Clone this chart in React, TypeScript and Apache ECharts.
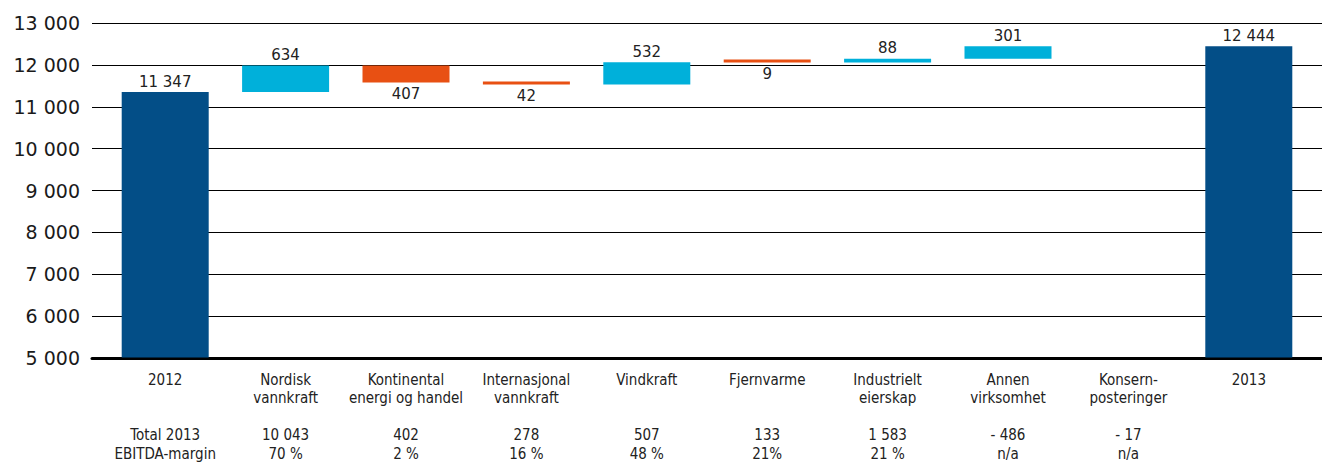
import React, { useEffect, useRef } from "react";
import * as echarts from "echarts";

const categoryNames = [
  "2012",
  "Nordisk\nvannkraft",
  "Kontinental\nenergi og handel",
  "Internasjonal\nvannkraft",
  "Vindkraft",
  "Fjernvarme",
  "Industrielt\neierskap",
  "Annen\nvirksomhet",
  "Konsern-\nposteringer",
  "2013",
];
const totals2013 = ["Total 2013", "10 043", "402", "278", "507", "133", "1 583", "- 486", "- 17", ""];
const ebitdaMargins = ["EBITDA-margin", "70 %", "2 %", "16 %", "48 %", "21%", "21 %", "n/a", "n/a", ""];

const startValue = 11347;
const deltas = [634, -407, -42, 532, -9, 88, 301, 0];
const endValue = 12444;

const yMin = 5000;
const yMax = 13000;
const yInterval = 1000;

const fmt = (n: number) => String(Math.abs(n)).replace(/\B(?=(\d{3})+(?!\d))/g, " ");

export default function App() {
  const ref = useRef<HTMLDivElement>(null);
  useEffect(() => {
    if (!ref.current) return;
    const chart = echarts.init(ref.current, null, { renderer: "svg" });

    const labels = categoryNames.map((c, i) => {
      const lines = c.split("\n");
      if (lines.length < 2) lines.push("");
      if (totals2013[i] || ebitdaMargins[i]) {
        return [...lines, "", totals2013[i], ebitdaMargins[i]].join("\n");
      }
      return lines.join("\n");
    });

    const base: (number | string)[] = ["-"];
    const inc: (number | string)[] = ["-"];
    const dec: (number | string)[] = ["-"];
    const tot: (number | string)[] = [startValue];
    let cum = startValue;
    deltas.forEach((d) => {
      if (d > 0) {
        base.push(cum);
        inc.push(d);
        dec.push("-");
      } else if (d < 0) {
        base.push(cum + d);
        inc.push("-");
        dec.push(-d);
      } else {
        base.push("-");
        inc.push("-");
        dec.push("-");
      }
      tot.push("-");
      cum += d;
    });
    base.push("-");
    inc.push("-");
    dec.push("-");
    tot.push(endValue);

    const labelStyle = {
      show: true,
      fontFamily: "DejaVu Sans",
      fontSize: 15,
      color: "#222",
      formatter: (p: any) => fmt(p.value),
    };

    chart.setOption({
      animation: false,
      grid: [
        { left: 92, right: 0, top: 23, height: 335 },
        { left: 105, right: 13, top: 23, height: 335 },
      ],
      xAxis: [
        {
          type: "category",
          gridIndex: 0,
          data: categoryNames,
          axisLabel: { show: false },
          axisTick: { show: false },
          axisLine: { show: true, lineStyle: { color: "#000", width: 3 } },
        },
        {
          type: "category",
          gridIndex: 1,
          data: labels,
          axisLine: { show: false },
          axisTick: { show: false },
          axisLabel: {
            interval: 0,
            margin: 13,
            fontFamily: "DejaVu Sans Condensed",
            fontSize: 15,
            lineHeight: 18.5,
            color: "#222",
            align: "center",
          },
        },
      ],
      yAxis: [
        {
          type: "value",
          gridIndex: 0,
          min: yMin,
          max: yMax,
          interval: yInterval,
          axisLine: { show: false },
          axisTick: { show: false },
          axisLabel: {
            margin: 12,
            fontFamily: "DejaVu Sans",
            fontSize: 19,
            color: "#1a1a1a",
            formatter: (v: number) => fmt(v),
          },
          splitLine: { show: true, lineStyle: { color: "#000", width: 1 } },
        },
        {
          type: "value",
          gridIndex: 1,
          min: yMin,
          max: yMax,
          interval: yInterval,
          show: false,
          splitLine: { show: false },
        },
      ],
      series: [
        {
          name: "base",
          type: "bar",
          xAxisIndex: 1,
          yAxisIndex: 1,
          stack: "w",
          barWidth: 87,
          silent: true,
          itemStyle: { color: "transparent" },
          data: base,
        },
        {
          name: "increase",
          type: "bar",
          xAxisIndex: 1,
          yAxisIndex: 1,
          stack: "w",
          barWidth: 87,
          barMinHeight: 3,
          itemStyle: { color: "#00b0da" },
          label: { ...labelStyle, position: "top", distance: 3 },
          data: inc,
        },
        {
          name: "decrease",
          type: "bar",
          xAxisIndex: 1,
          yAxisIndex: 1,
          stack: "w",
          barWidth: 87,
          barMinHeight: 3,
          itemStyle: { color: "#e85013" },
          label: { ...labelStyle, position: "bottom", distance: 4 },
          data: dec,
        },
        {
          name: "total",
          type: "bar",
          xAxisIndex: 1,
          yAxisIndex: 1,
          stack: "w",
          barWidth: 87,
          itemStyle: { color: "#034e87" },
          label: { ...labelStyle, position: "top", distance: 3 },
          data: tot,
        },
      ],
    });
    return () => chart.dispose();
  }, []);
  return (
    <div
      ref={ref}
      style={{ position: "absolute", left: 0, top: 0, width: 1322, height: 463, background: "#fff" }}
    />
  );
}
